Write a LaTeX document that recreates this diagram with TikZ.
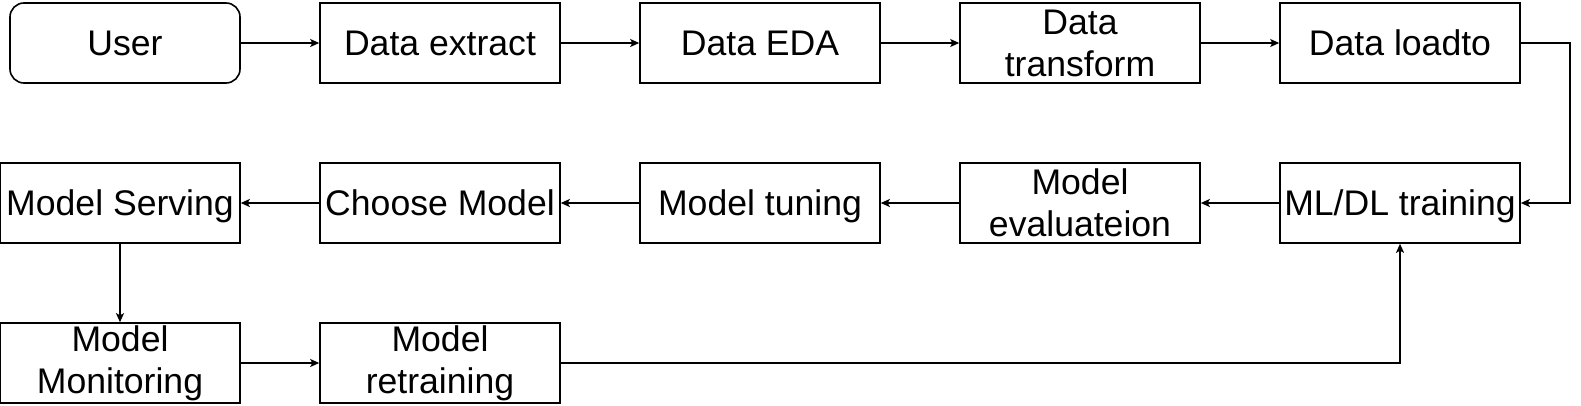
\documentclass[tikz,border=0pt]{standalone}
\usepackage{fontspec}
\setmainfont{Liberation Sans}
\usetikzlibrary{arrows.meta}
\tikzset{every picture/.style={line width=1.6pt}}

\begin{document}
\begin{tikzpicture}[x=1pt,y=-1pt,
  boxbase/.style={draw,rectangle,minimum width=240pt,minimum height=80pt,
    inner sep=0pt,align=center,font=\fontsize{35.6}{42}\selectfont},
  stagebox/.style={boxbase,text height=26pt,text depth=1pt},
  pairbox/.style={boxbase},
  userbox/.style={stagebox,minimum width=230pt,rounded corners=14pt},
  flow/.style={-{Stealth[length=9pt,width=8pt,inset=2pt]}}]
\useasboundingbox (0,0) rectangle (1581,406);
% first row
\node[userbox] (user) at (125,43) {User};
\node[stagebox] (extract) at (440,43) {Data extract};
\node[stagebox] (eda) at (760,43) {Data EDA};
\node[pairbox] (transform) at (1080,43) {Data\\transform};
\node[stagebox] (loadto) at (1400,43) {Data loadto};
%
% second row
\node[stagebox] (serving) at (120,203) {Model Serving};
\node[stagebox] (choose) at (440,203) {Choose Model};
\node[stagebox] (tuning) at (760,203) {Model tuning};
\node[pairbox] (evaluate) at (1080,203) {Model\\evaluateion};
\node[stagebox] (training) at (1400,203) {ML/DL training};
%
% third row
\node[pairbox] (monitoring) at (120,363) {Model\\Monitoring};
\node[pairbox] (retraining) at (440,363) {Model\\retraining};
%
\coordinate (turn) at (1570,43);
\draw[flow] (user) -- (extract);
\draw[flow] (extract) -- (eda);
\draw[flow] (eda) -- (transform);
\draw[flow] (transform) -- (loadto);
\draw[flow] (loadto.east) -- (turn) |- (training.east);
\draw[flow] (training) -- (evaluate);
\draw[flow] (evaluate) -- (tuning);
\draw[flow] (tuning) -- (choose);
\draw[flow] (choose) -- (serving);
\draw[flow] (serving) -- (monitoring);
\draw[flow] (monitoring) -- (retraining);
\draw[flow] (retraining.east) -| (training.south);
\end{tikzpicture}
\end{document}
